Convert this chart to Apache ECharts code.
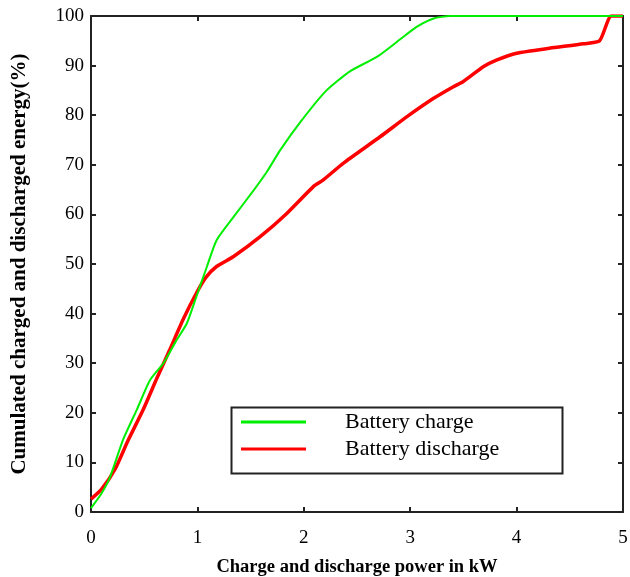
<!DOCTYPE html>
<html>
<head>
<meta charset="utf-8">
<script src="https://cdn.jsdelivr.net/npm/echarts@6/dist/echarts.min.js"></script>
<style>html,body{margin:0;padding:0;background:#fff;}#c{width:630px;height:577px;}</style>
</head>
<body>
<div id="c"></div>
<script>
const seriesNames = ['Battery charge', 'Battery discharge'];
const chargeX = [0, 0.1, 0.18, 0.3, 0.43, 0.555, 0.68, 0.8, 0.9, 0.99, 1.09, 1.18, 1.34, 1.53, 1.65, 1.78, 1.96, 2.2, 2.43, 2.69, 2.9, 3.06, 3.22, 3.37, 5];
const chargeY = [0.8, 3.8, 7.1, 14.5, 20.6, 26.6, 30, 34.5, 38, 43.4, 49.5, 54.8, 59.5, 64.9, 68.5, 73, 78.4, 84.7, 88.8, 91.8, 95.2, 97.8, 99.5, 100, 100];
const dischargeX = [0, 0.1, 0.23, 0.35, 0.49, 0.62, 0.74, 0.87, 0.99, 1.08, 1.18, 1.34, 1.59, 1.84, 2.09, 2.18, 2.37, 2.72, 2.97, 3.22, 3.41, 3.5, 3.69, 3.81, 4.0, 4.31, 4.63, 4.78, 4.89, 5];
const dischargeY = [2.6, 4.6, 8.8, 14.5, 20.6, 27, 32.7, 39, 44.1, 47.3, 49.5, 51.5, 55.5, 60.2, 65.6, 66.9, 70.3, 75.7, 79.7, 83.4, 85.8, 86.8, 89.8, 91.1, 92.5, 93.5, 94.4, 95, 100, 100];
const xTicks = [0, 1, 2, 3, 4, 5];
const yTicks = [0, 10, 20, 30, 40, 50, 60, 70, 80, 90, 100];

const serif = '"Liberation Serif", "DejaVu Serif", serif';
const axisCol = '#222';
const zip = (a, b) => a.map((v, i) => [v, b[i]]);

const chart = echarts.init(document.getElementById('c'));
const baseAxis = {
  axisLine: { show: true, onZero: false, lineStyle: { color: axisCol, width: 2 } },
  axisTick: { show: true, inside: true, length: 5, lineStyle: { color: axisCol, width: 2 } },
  splitLine: { show: false },
  minorTick: { show: false }
};
chart.setOption({
  animation: false,
  backgroundColor: '#fff',
  grid: { left: 91, right: 7, top: 16, bottom: 65, containLabel: false, outerBoundsMode: 'none' },
  xAxis: [
    Object.assign({}, baseAxis, {
      type: 'value', min: xTicks[0], max: xTicks[xTicks.length - 1], interval: 1, position: 'bottom',
      axisLabel: { fontFamily: serif, fontSize: 19, color: '#000', margin: 17 },
      name: 'Charge and discharge power in kW', nameLocation: 'middle', nameGap: 46,
      nameTextStyle: { fontFamily: serif, fontSize: 18.5, fontWeight: 'bold', color: '#000' }
    }),
    Object.assign({}, baseAxis, {
      type: 'value', min: xTicks[0], max: xTicks[xTicks.length - 1], interval: 1, position: 'top',
      axisLabel: { show: false }
    })
  ],
  yAxis: [
    Object.assign({}, baseAxis, {
      type: 'value', min: yTicks[0], max: yTicks[yTicks.length - 1], interval: 10, position: 'left',
      axisLabel: { fontFamily: serif, fontSize: 19, color: '#000', margin: 7 },
      name: 'Cumulated charged and discharged energy(%)', nameLocation: 'middle', nameGap: 61,
      nameTextStyle: { fontFamily: serif, fontSize: 21, fontWeight: 'bold', color: '#000' }
    }),
    Object.assign({}, baseAxis, {
      type: 'value', min: yTicks[0], max: yTicks[yTicks.length - 1], interval: 10, position: 'right',
      axisLabel: { show: false }
    })
  ],
  legend: {
    orient: 'vertical', left: 241, top: 410, padding: 0,
    itemWidth: 65, itemHeight: 3, itemGap: 3,
    icon: 'rect',
    data: seriesNames,
    textStyle: { fontFamily: serif, fontSize: 22, color: '#000', lineHeight: 24, padding: [0, 0, 0, 34] }
  },
  graphic: [{
    type: 'rect', left: 229, top: 405, z: 50,
    shape: { width: 331, height: 66 },
    style: { fill: 'none', stroke: axisCol, lineWidth: 2 }
  }],
  series: [
    {
      name: seriesNames[0], type: 'line', data: zip(chargeX, chargeY), showSymbol: false, symbol: 'none',
      smooth: 0.2, lineStyle: { color: '#00ee00', width: 2 }, itemStyle: { color: '#00ee00' }, z: 3
    },
    {
      name: seriesNames[1], type: 'line', data: zip(dischargeX, dischargeY), showSymbol: false, symbol: 'none',
      smooth: 0.2, lineStyle: { color: '#ff0000', width: 3.5 }, itemStyle: { color: '#ff0000' }, z: 2
    }
  ]
});
</script>
</body>
</html>
